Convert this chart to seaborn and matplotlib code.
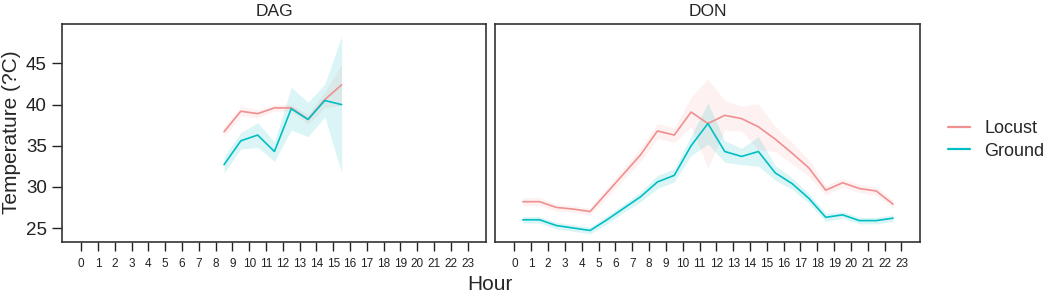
import matplotlib
matplotlib.use("Agg")
import pandas as pd
import matplotlib.pyplot as plt
import seaborn as sns

# Hourly tick labels (0..23); readings sit at mid-hour
hours = list(range(24))

# DAG panel
dag_hour = [8.5, 9.5, 10.5, 11.5, 12.5, 13.5, 14.5, 15.5]
dag_locust = [36.7, 39.2, 38.9, 39.6, 39.6, 38.2, 40.6, 42.4]
dag_locust_ci = [0.6, 0.6, 0.5, 0.4, 0.4, 0.6, 1.0, 2.5]
dag_ground = [32.7, 35.6, 36.3, 34.3, 39.5, 38.2, 40.5, 40.0]
dag_ground_ci = [1.0, 1.0, 1.5, 1.2, 2.6, 2.1, 2.0, 8.3]

# DON panel
don_hour = [h + 0.5 for h in range(23)]
don_locust = [28.2, 28.2, 27.5, 27.3, 27.0, 29.3, 31.6, 33.9, 36.8, 36.3, 39.1, 37.7,
              38.7, 38.3, 37.3, 35.8, 34.1, 32.3, 29.6, 30.5, 29.8, 29.5, 27.9]
don_locust_ci = [0.5, 0.5, 0.4, 0.4, 0.4, 0.6, 0.7, 0.8, 0.9, 0.9, 1.8, 5.4,
                 1.8, 1.5, 2.8, 1.5, 1.3, 1.0, 0.6, 0.5, 0.5, 0.5, 0.5]
don_ground = [26.0, 26.0, 25.3, 25.0, 24.7, 26.0, 27.4, 28.8, 30.6, 31.4, 35.0, 37.7,
              34.3, 33.7, 34.3, 31.7, 30.4, 28.6, 26.3, 26.6, 25.9, 25.9, 26.2]
don_ground_ci = [0.4, 0.4, 0.4, 0.4, 0.4, 0.5, 0.5, 0.6, 0.8, 0.8, 1.2, 2.5,
                 1.3, 1.0, 1.8, 0.9, 0.7, 0.6, 0.5, 0.4, 0.4, 0.4, 0.4]

series = ["Locust", "Ground"]
colors = {"Locust": "#F09090", "Ground": "#00BFC4"}
band_alpha = {"Locust": 0.12, "Ground": 0.14}

sns.set_style("white")
plt.rcParams["font.family"] = ["Liberation Sans", "DejaVu Sans"]

fig = plt.figure(figsize=(10.45, 2.96), dpi=100)
ax1 = fig.add_axes([62 / 1045, 1 - 242 / 296, 424 / 1045, 218 / 296])
ax2 = fig.add_axes([495 / 1045, 1 - 242 / 296, 425 / 1045, 218 / 296])

panels = [
    (ax1, "DAG", dag_hour, dag_locust, dag_locust_ci, dag_ground, dag_ground_ci),
    (ax2, "DON", don_hour, don_locust, don_locust_ci, don_ground, don_ground_ci),
]

for ax, name, hr, loc, loc_ci, gr, gr_ci in panels:
    df = pd.DataFrame({
        "Hour": hr + hr,
        "Temperature": loc + gr,
        "Position": ["Locust"] * len(hr) + ["Ground"] * len(hr),
    })
    sns.lineplot(data=df, x="Hour", y="Temperature", hue="Position",
                 hue_order=series, palette=colors, errorbar=None,
                 linewidth=1.2, legend=False, ax=ax)
    for vals, ci, key in [(loc, loc_ci, "Locust"), (gr, gr_ci, "Ground")]:
        lo = [v - c for v, c in zip(vals, ci)]
        hi = [v + c for v, c in zip(vals, ci)]
        ax.fill_between(hr, lo, hi, color=colors[key], alpha=band_alpha[key], linewidth=0)

    ax.set_xlim(-1.15, 24.1)
    ax.set_ylim(23.3, 49.8)
    ax.set_xticks(hours)
    ax.set_xticklabels([str(h) for h in hours])
    ax.set_xlabel("")
    ax.set_ylabel("")
    ax.set_title(name, fontsize=12.5, pad=6)
    ax.tick_params(axis="x", length=6.5, width=1, pad=5, labelsize=8.5, bottom=True,
                   colors="#222222")
    for s in ax.spines.values():
        s.set_color("#333333")
        s.set_linewidth(1.2)

ax1.set_yticks([25, 30, 35, 40, 45])
ax1.tick_params(axis="y", length=7.2, width=1, pad=3.6, labelsize=13.5, left=True,
                colors="#222222")
ax2.set_yticks([])

handles = [plt.Line2D([], [], color=colors[s], linewidth=1.6) for s in series]
fig.legend(handles, series, loc="center left", bbox_to_anchor=(948 / 1045, 1 - 140 / 296),
           frameon=False, fontsize=13, handlelength=1.2, handletextpad=0.8,
           labelspacing=0.3, borderpad=0, borderaxespad=0)

fig.text(490 / 1045, 1 - 284 / 296, "Hour", ha="center", va="center", fontsize=15)
fig.text(12 / 1045, 1 - 132 / 296, "Temperature (?C)", ha="center", va="center",
         rotation=90, fontsize=15)

fig.savefig("out.png", dpi=100)
